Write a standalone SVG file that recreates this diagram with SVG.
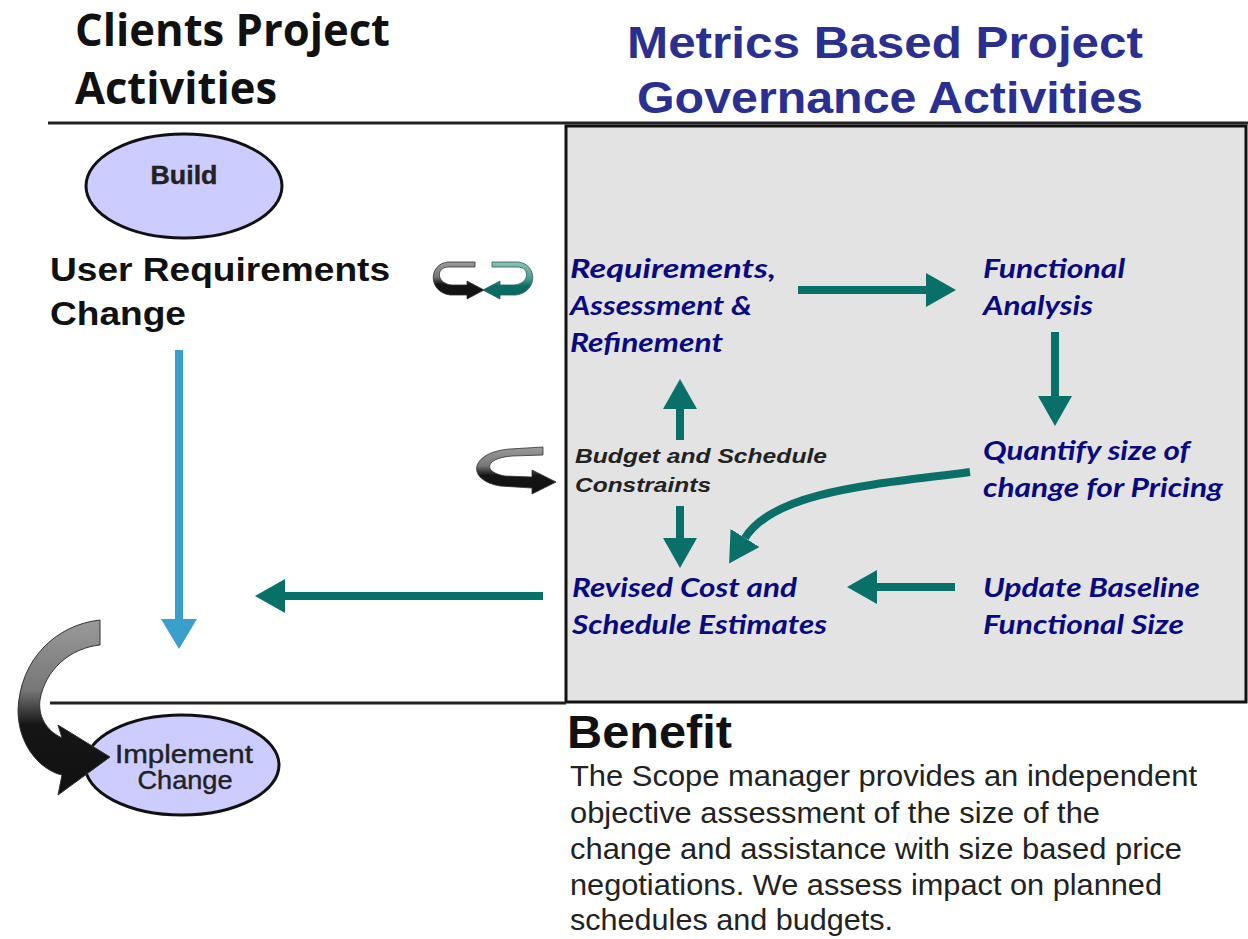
<svg xmlns="http://www.w3.org/2000/svg" width="1248" height="939" viewBox="0 0 1248 939">
<defs>
<style>
.title{font-family:"Open Sans","Noto Sans",sans-serif;font-weight:bold;fill:#111}
.rtitle{font-family:"Liberation Sans",Arial,sans-serif;font-weight:bold;fill:#2b2f8f}
.node{font-family:Lato,"Open Sans",sans-serif;font-weight:bold;font-style:italic;fill:#0a0a80;font-size:26px}
.lbl{font-family:"Liberation Sans",Arial,sans-serif;font-weight:bold;font-style:italic;fill:#222;font-size:20px}
.ell{fill:#ccccff;stroke:#111;stroke-width:3}
.etxt{font-family:"Liberation Sans",Arial,sans-serif;fill:#222;stroke:#222;stroke-width:0.4;font-size:25px;text-anchor:middle}
.body{font-family:"Liberation Sans",Arial,sans-serif;fill:#222;font-size:30px}
.teal{stroke:#087068;stroke-width:8;fill:none}
.blue{stroke:#3a9fcc;stroke-width:8;fill:none}
</style>
<marker id="ht" markerUnits="userSpaceOnUse" markerWidth="30" markerHeight="34" refX="0" refY="17" orient="auto">
<path d="M0,0 L30,17 L0,34 Z" fill="#087068"/>
</marker>
<marker id="hb" markerUnits="userSpaceOnUse" markerWidth="30" markerHeight="36" refX="0" refY="18" orient="auto">
<path d="M0,0 L30,18 L0,36 Z" fill="#3a9fcc"/>
</marker>
<linearGradient id="gk" x1="0" y1="0" x2="0" y2="1">
<stop offset="0" stop-color="#9a9a9a"/>
<stop offset="0.4" stop-color="#777"/>
<stop offset="0.6" stop-color="#151515"/>
<stop offset="1" stop-color="#111"/>
</linearGradient>
<linearGradient id="gt" x1="0" y1="0" x2="0" y2="1">
<stop offset="0" stop-color="#8cc4bc"/>
<stop offset="0.45" stop-color="#4a9a90"/>
<stop offset="0.65" stop-color="#0a6e66"/>
<stop offset="1" stop-color="#086860"/>
</linearGradient>
</defs>
<rect width="1248" height="939" fill="#fff"/>

<g id="headers">
<text class="title" x="75" y="46" font-size="44" textLength="315" lengthAdjust="spacingAndGlyphs">Clients Project</text>
<text class="title" x="75" y="104" font-size="44" textLength="202" lengthAdjust="spacingAndGlyphs">Activities</text>
<text class="rtitle" x="627" y="58" font-size="45" textLength="516" lengthAdjust="spacingAndGlyphs">Metrics Based Project</text>
<text class="rtitle" x="637" y="113" font-size="45" textLength="506" lengthAdjust="spacingAndGlyphs">Governance Activities</text>
</g>

<g id="frame">
<line x1="48" y1="123" x2="1248" y2="123" stroke="#222" stroke-width="3"/>
<rect x="566" y="126" width="680" height="576" fill="#e3e3e3" stroke="#111" stroke-width="3"/>
<line x1="50" y1="703" x2="566" y2="703" stroke="#222" stroke-width="3"/>
</g>

<g id="build">
<ellipse class="ell" cx="184" cy="186" rx="98" ry="52"/>
<text class="etxt" x="184" y="184" font-weight="bold" stroke-width="0" textLength="67" lengthAdjust="spacingAndGlyphs">Build</text>
</g>

<g id="user-req">
<text x="50" y="281" font-family="Liberation Sans, Arial, sans-serif" font-weight="bold" font-size="33" fill="#111" textLength="340" lengthAdjust="spacingAndGlyphs">User Requirements</text>
<text x="50" y="325" font-family="Liberation Sans, Arial, sans-serif" font-weight="bold" font-size="33" fill="#111" textLength="136" lengthAdjust="spacingAndGlyphs">Change</text>
</g>

<g id="implement">
<ellipse class="ell" cx="182" cy="765" rx="97" ry="50"/>
<text class="etxt" x="184" y="763" textLength="138" lengthAdjust="spacingAndGlyphs">Implement</text>
<text class="etxt" x="185" y="789" textLength="95" lengthAdjust="spacingAndGlyphs">Change</text>
</g>

<g id="req">
<text class="node" x="570" y="278" textLength="206" lengthAdjust="spacingAndGlyphs">Requirements,</text>
<text class="node" x="570" y="315" textLength="182" lengthAdjust="spacingAndGlyphs">Assessment &amp;</text>
<text class="node" x="570" y="352" textLength="153" lengthAdjust="spacingAndGlyphs">Refinement</text>
</g>
<g id="func">
<text class="node" x="983" y="278" textLength="142" lengthAdjust="spacingAndGlyphs">Functional</text>
<text class="node" x="983" y="315" textLength="110" lengthAdjust="spacingAndGlyphs">Analysis</text>
</g>
<g id="quant">
<text class="node" x="983" y="460" textLength="207" lengthAdjust="spacingAndGlyphs">Quantify size of</text>
<text class="node" x="983" y="497" textLength="240" lengthAdjust="spacingAndGlyphs">change for Pricing</text>
</g>
<g id="revised">
<text class="node" x="572" y="597" textLength="225" lengthAdjust="spacingAndGlyphs">Revised Cost and</text>
<text class="node" x="572" y="634" textLength="255" lengthAdjust="spacingAndGlyphs">Schedule Estimates</text>
</g>
<g id="update">
<text class="node" x="983" y="597" textLength="217" lengthAdjust="spacingAndGlyphs">Update Baseline</text>
<text class="node" x="983" y="634" textLength="201" lengthAdjust="spacingAndGlyphs">Functional Size</text>
</g>
<g id="budget">
<text class="lbl" x="575" y="463" textLength="252" lengthAdjust="spacingAndGlyphs">Budget and Schedule</text>
<text class="lbl" x="575" y="492" textLength="136" lengthAdjust="spacingAndGlyphs">Constraints</text>
</g>

<g id="benefit">
<text x="567" y="748" font-family="Liberation Sans, Arial, sans-serif" font-weight="bold" font-size="46" fill="#111" textLength="165" lengthAdjust="spacingAndGlyphs">Benefit</text>
<text class="body" x="570" y="786" textLength="627" lengthAdjust="spacingAndGlyphs">The Scope manager provides an independent</text>
<text class="body" x="570" y="823" textLength="530" lengthAdjust="spacingAndGlyphs">objective assessment of the size of the</text>
<text class="body" x="570" y="859" textLength="612" lengthAdjust="spacingAndGlyphs">change and assistance with size based price</text>
<text class="body" x="570" y="895" textLength="592" lengthAdjust="spacingAndGlyphs">negotiations. We assess impact on planned</text>
<text class="body" x="570" y="930" textLength="323" lengthAdjust="spacingAndGlyphs">schedules and budgets.</text>
</g>

<g id="connectors">
<path class="teal" d="M798,290 H926" marker-end="url(#ht)"/>
<path class="teal" d="M1055,332 V396" marker-end="url(#ht)"/>
<path class="teal" d="M680,440 V409" marker-end="url(#ht)"/>
<path class="teal" d="M680,506 V538" marker-end="url(#ht)"/>
<path class="teal" d="M970,472 C880,484 775,490 745,538" stroke-width="9" marker-end="url(#ht)"/>
<path class="teal" d="M955,587 H877" marker-end="url(#ht)"/>
<path class="teal" d="M543,596 H285" marker-end="url(#ht)"/>
<path class="blue" d="M179,350 V619" marker-end="url(#hb)"/>
</g>

<g id="cycle-icons">
<path d="M475,262 L448,262 C428,264 428,292 450,295 L467,295 L467,299 L484,290 L467,281 L467,285 L452,285 C437,284 435,268 448,267 L475,267 Z" fill="url(#gk)" stroke="#333" stroke-width="0.8"/>
<path d="M492,262 L518,262 C538,264 538,292 516,295 L500,295 L500,299 L483,290 L500,281 L500,285 L514,285 C529,284 531,268 518,267 L492,267 Z" fill="url(#gt)" stroke="#2a5a55" stroke-width="0.8"/>
<path d="M543,447 L510,449 C470,452 465,480 500,486 L532,488 L532,494 L556,482 L532,470 L532,477 L505,476 C482,472 485,458 512,456 L543,455 Z" fill="url(#gk)" stroke="#333" stroke-width="0.8"/>
<path d="M100,620 C55,625 20,660 18,710 C18,745 40,770 62,775 L58,795 L110,757 L58,725 L62,738 C45,730 38,715 40,700 C45,670 70,648 100,645 Z" fill="url(#gk)" stroke="#333" stroke-width="1"/>
</g>
</svg>
